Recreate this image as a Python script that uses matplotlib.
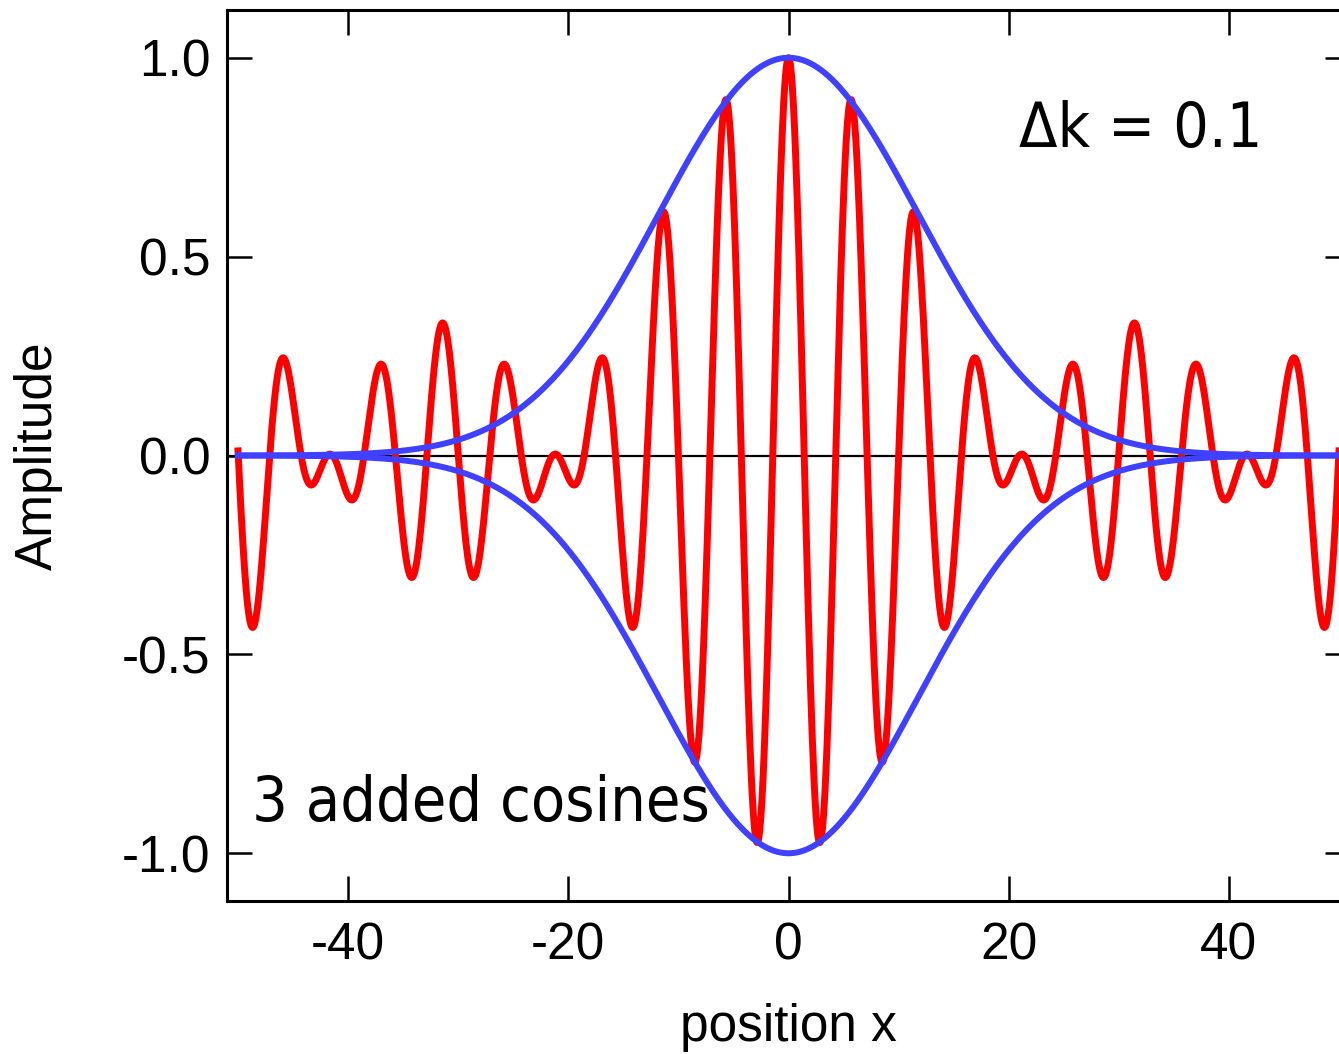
import numpy as np
import matplotlib
matplotlib.use("Agg")
import matplotlib.pyplot as plt

plt.rcParams["axes.unicode_minus"] = False

# ── wave packet parameters ──────────────────────────────────────────────────
K_VALUES = [1.0, 1.1, 1.2]        # three wavenumbers, spacing dk = 0.1
AMPLITUDES = [1.0, 1.0, 1.0]      # equal weights
X_START, X_STOP = -50.0, 50.0     # plotted range of x
ENVELOPE_SIGMA = 11.8             # width of the gaussian envelope
N_SAMPLES = 2001

X_TICKS = [-40, -20, 0, 20, 40]
Y_TICKS = [-1.0, -0.5, 0.0, 0.5, 1.0]

x = np.linspace(X_START, X_STOP, N_SAMPLES)
wave = sum(a * np.cos(k * x) for k, a in zip(K_VALUES, AMPLITUDES)) / sum(AMPLITUDES)
envelope = np.exp(-x ** 2 / (2 * ENVELOPE_SIGMA ** 2))

TICK_FONT = "Liberation Sans"
NOTE_FONT = "DejaVu Sans"

fig = plt.figure(figsize=(13.39, 10.54), dpi=100)
ax = fig.add_axes([227 / 1339, 153 / 1054, 1123 / 1339, 891 / 1054])

ax.axhline(0, color="black", lw=1.6, zorder=1)
ax.plot(x, wave, color="#ff0000", lw=5.0, zorder=2)
ax.plot(x, envelope, color="#4040ff", lw=4.3, zorder=3)
ax.plot(x, -envelope, color="#4040ff", lw=4.3, zorder=3)

ax.set_xlim(-51, 51)
ax.set_ylim(-1.12, 1.12)
ax.set_xticks(X_TICKS)
ax.set_yticks(Y_TICKS)
ax.set_yticklabels([f"{v:.1f}" for v in Y_TICKS])
ax.tick_params(direction="in", length=18, width=1.8, top=True, right=True,
               labelsize=37)
ax.tick_params(axis="y", pad=12)
ax.tick_params(axis="x", pad=15)
for lbl in ax.get_xticklabels() + ax.get_yticklabels():
    lbl.set_fontfamily(TICK_FONT)
for sp in ax.spines.values():
    sp.set_linewidth(2.2)

ax.set_xlabel("position x", fontsize=37, family=TICK_FONT)
ax.set_ylabel("Amplitude", fontsize=37, family=TICK_FONT)
ax.xaxis.set_label_coords(0.5, -0.115)
ax.yaxis.set_label_coords(-0.146, 0.5)

ax.text(-48.7, -0.92, "3 added cosines", fontsize=45, family=NOTE_FONT,
        fontstretch="condensed", va="baseline", ha="left")
ax.text(20.9, 0.776, "\u0394k = 0.1", fontsize=45, family=NOTE_FONT,
        fontstretch="condensed", va="baseline", ha="left")

fig.savefig("out.png", dpi=100)
